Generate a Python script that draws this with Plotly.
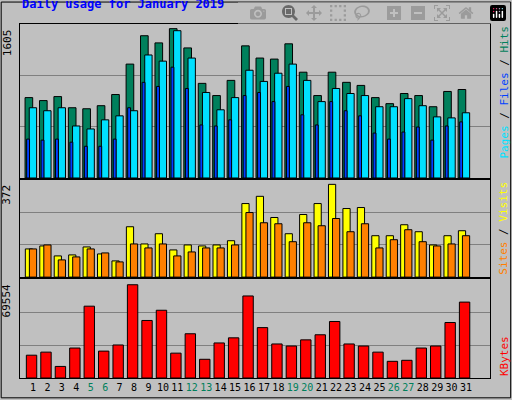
import plotly.graph_objects as go

days = list(range(1, 32))
weekend = [5, 6, 12, 13, 19, 20, 26, 27]
hits = [864, 832, 875, 755, 744, 777, 897, 1224, 1529, 1452, 1605, 1398, 1017, 886, 1049, 1420,
        1289, 1278, 1442, 1137, 886, 1137, 1028, 995, 864, 799, 908, 886, 766, 930, 951]
files = [755, 723, 755, 559, 527, 625, 668, 723, 1322, 1256, 1583, 1289, 919, 733, 864, 1158,
         1038, 1126, 1224, 1049, 821, 962, 908, 886, 766, 766, 853, 777, 657, 646, 701]
pages = [418, 407, 418, 385, 341, 341, 418, 755, 1028, 984, 1191, 962, 570, 559, 625, 886,
         919, 821, 984, 679, 570, 821, 723, 668, 483, 418, 494, 548, 407, 559, 603]
visits = [113, 125, 85, 89, 121, 93, 65, 202, 133, 174, 109, 129, 125, 129, 146, 295,
          324, 239, 174, 251, 295, 372, 275, 279, 166, 166, 210, 182, 129, 166, 186]
sites = [113, 129, 69, 81, 113, 97, 61, 133, 117, 133, 85, 101, 117, 117, 129, 259,
         218, 214, 142, 218, 206, 235, 182, 214, 117, 150, 190, 142, 125, 133, 166]
kbytes = [17010, 19296, 8632, 22342, 53570, 20057, 24627, 69554, 42906, 50522, 18534, 33004,
          13963, 26150, 29958, 61186, 37574, 25388, 23865, 28435, 32243, 42145, 25388, 23865,
          19296, 12440, 13202, 22342, 23865, 41383, 56616]

mk = lambda c: dict(color=c, line=dict(color="black", width=1))
fig = go.Figure()
fig.add_bar(x=days, y=hits, width=0.53, offset=-0.55, marker=mk("#00805C"), xaxis="x", yaxis="y")
fig.add_bar(x=days, y=files, width=0.51, offset=-0.26, marker=mk("#00E0FF"), xaxis="x", yaxis="y")
fig.add_bar(x=days, y=pages, width=0.2, offset=-0.44, marker=mk("#0040FF"), xaxis="x", yaxis="y")
fig.add_bar(x=days, y=visits, width=0.5, offset=-0.53, marker=mk("#FFFF00"), xaxis="x2", yaxis="y2")
fig.add_bar(x=days, y=sites, width=0.5, offset=-0.25, marker=mk("#FF8000"), xaxis="x2", yaxis="y2")
fig.add_bar(x=days, y=kbytes, width=0.72, offset=-0.46, marker=mk("#FF0000"), xaxis="x3", yaxis="y3")

xr = [0.1, 32.66]
ticktext = [f"<span style='color:#00805C'>{d}</span>" if d in weekend else str(d) for d in days]
xcommon = dict(range=xr, showgrid=False, zeroline=False, showline=True, mirror=True,
               linecolor="black", linewidth=1, fixedrange=True)
ycommon = dict(showline=True, mirror=True, linecolor="black", linewidth=1, zeroline=False,
               showticklabels=False, gridcolor="#808080", gridwidth=1, ticks="")
fig.update_layout(
    width=512, height=400, barmode="overlay", showlegend=False,
    paper_bgcolor="#C0C0C0", plot_bgcolor="#C0C0C0",
    margin=dict(l=20, r=22, t=24, b=22, autoexpand=False),
    font=dict(family="DejaVu Sans Mono", size=11, color="black"),
    xaxis=dict(**xcommon, anchor="y", showticklabels=False),
    xaxis2=dict(**xcommon, anchor="y2", showticklabels=False),
    xaxis3=dict(**xcommon, anchor="y3", tickvals=days, ticktext=ticktext, ticks="",
                tickangle=0, tickfont=dict(size=10)),
    yaxis=dict(**ycommon, domain=[0.565, 1], range=[0, 1655], tickvals=[552, 1103]),
    yaxis2=dict(**ycommon, domain=[0.285, 0.559], range=[0, 389], tickvals=[130, 260]),
    yaxis3=dict(**ycommon, domain=[0, 0.279], range=[0, 73666], tickvals=[24555, 49110]),
    shapes=[
        dict(type="rect", xref="paper", yref="paper", x0=-0.04, x1=1.044, y0=-0.056, y1=1.062,
             line=dict(color="black", width=1), layer="below"),
    ],
)
fig.add_annotation(text="<b>Daily usage for January 2019</b>", xref="paper", yref="paper",
                   x=-0.0, y=1.03, xanchor="left", yanchor="bottom", showarrow=False,
                   font=dict(color="#0000FF", size=12))
for txt, yv in [("1605", 1.0), ("372", 0.559), ("69554", 0.279)]:
    fig.add_annotation(text=txt, xref="paper", yref="paper", x=-0.028, y=yv - 0.008,
                       xanchor="center", yanchor="top", textangle=-90, showarrow=False,
                       font=dict(size=11))
fig.add_annotation(text="<span style='color:#00E0FF'>Pages</span> / <span style='color:#0040FF'>Files</span> / <span style='color:#00805C'>Hits</span>",
                   xref="paper", yref="paper", x=1.03, y=1.0, xanchor="center", yanchor="top",
                   textangle=-90, showarrow=False, font=dict(size=11))
fig.add_annotation(text="<span style='color:#FF8000'>Sites</span> / <span style='color:#FFFF00'>Visits</span>",
                   xref="paper", yref="paper", x=1.03, y=0.559, xanchor="center", yanchor="top",
                   textangle=-90, showarrow=False, font=dict(size=11))
fig.add_annotation(text="<span style='color:#FF0000'>KBytes</span>",
                   xref="paper", yref="paper", x=1.03, y=0.0, xanchor="center", yanchor="bottom",
                   textangle=-90, showarrow=False, font=dict(size=11))
fig.write_html("out.html", post_script="document.body.style.margin='0';document.body.style.background='#C0C0C0';")
